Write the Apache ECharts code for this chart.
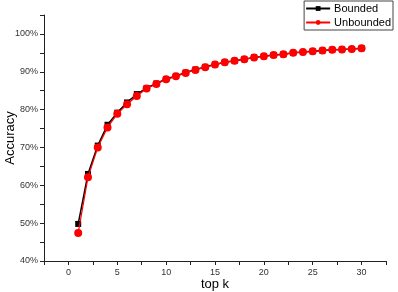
<!DOCTYPE html>
<html lang="en">
<head>
    <meta charset="UTF-8">
    <title>Accuracy vs top k</title>
    <script src="https://cdn.jsdelivr.net/npm/echarts@6/dist/echarts.min.js"></script>
    <style>
        html, body { margin: 0; padding: 0; background: #fff; }
        #chart { width: 398px; height: 292px; }
    </style>
</head>
<body>
    <div id="chart"></div>
    <script>
        // top k values
        var topK = [];
        for (var k = 1; k <= 30; k++) topK.push(k);

        // accuracy in %
        var bounded = [49.8, 63.0, 70.5, 76.0, 79.2, 81.9, 84.1, 85.7, 86.9, 88.1,
            88.9, 89.8, 90.6, 91.3, 91.9, 92.5, 92.9, 93.3, 93.8, 94.1,
            94.4, 94.6, 95.0, 95.2, 95.4, 95.6, 95.8, 95.9, 96.0, 96.2];
        var unbounded = [47.4, 62.1, 70.0, 75.3, 78.9, 81.4, 83.6, 85.6, 86.8, 88.0,
            88.8, 89.7, 90.5, 91.2, 91.9, 92.5, 92.9, 93.3, 93.8, 94.1,
            94.4, 94.6, 95.0, 95.2, 95.4, 95.6, 95.8, 95.9, 96.0, 96.2];

        function pairs(ys) {
            return topK.map(function (x, i) { return [x, ys[i]]; });
        }

        var font = 'Liberation Sans, Arial, sans-serif';
        var chart = echarts.init(document.getElementById('chart'));
        chart.setOption({
            animation: false,
            grid: { left: 44, top: 15, right: 12, bottom: 31, outerBoundsMode: 'none' },
            legend: {
                orient: 'vertical',
                right: 5,
                top: 1,
                itemGap: 3,
                itemWidth: 24,
                itemHeight: 6,
                padding: [2, 2, 2, 1],
                borderColor: '#444',
                borderWidth: 1,
                textStyle: { fontFamily: font, fontSize: 11, color: '#000', padding: [0, 0, 0, -1] },
                data: ['Bounded', 'Unbounded']
            },
            xAxis: {
                type: 'value',
                min: -2.5,
                max: 32.5,
                interval: 2.5,
                name: 'top k',
                nameLocation: 'middle',
                nameGap: 17,
                nameMoveOverlap: false,
                nameTextStyle: { fontFamily: font, fontSize: 13, color: '#000' },
                axisLine: { onZero: false, lineStyle: { color: '#222', width: 1 } },
                axisTick: { length: 4, lineStyle: { color: '#222' } },
                axisLabel: {
                    fontFamily: font, fontSize: 9, color: '#333', margin: 7,
                    formatter: function (v) { return (v % 5 === 0) ? v : ''; }
                },
                splitLine: { show: false }
            },
            yAxis: {
                type: 'value',
                min: 40,
                max: 105,
                interval: 5,
                name: 'Accuracy',
                nameLocation: 'middle',
                nameGap: 27,
                nameMoveOverlap: false,
                nameTextStyle: { fontFamily: font, fontSize: 13, color: '#000' },
                axisLine: { show: true, onZero: false, lineStyle: { color: '#222', width: 1 } },
                axisTick: { show: true, length: 4, lineStyle: { color: '#222' } },
                axisLabel: {
                    fontFamily: font, fontSize: 9, color: '#333', margin: 6,
                    formatter: function (v) { return (v % 10 === 0 && v <= 100) ? v + '%' : ''; }
                },
                splitLine: { show: false }
            },
            series: [
                {
                    name: 'Bounded',
                    type: 'line',
                    data: pairs(bounded),
                    symbol: 'rect',
                    symbolSize: 6,
                    itemStyle: { color: '#000' },
                    lineStyle: { color: '#000', width: 1.5 },
                    z: 2
                },
                {
                    name: 'Unbounded',
                    type: 'line',
                    data: pairs(unbounded),
                    symbol: 'circle',
                    symbolSize: 8,
                    itemStyle: { color: '#f00' },
                    lineStyle: { color: '#f00', width: 1.2 },
                    z: 3
                }
            ]
        });
    </script>
</body>
</html>
